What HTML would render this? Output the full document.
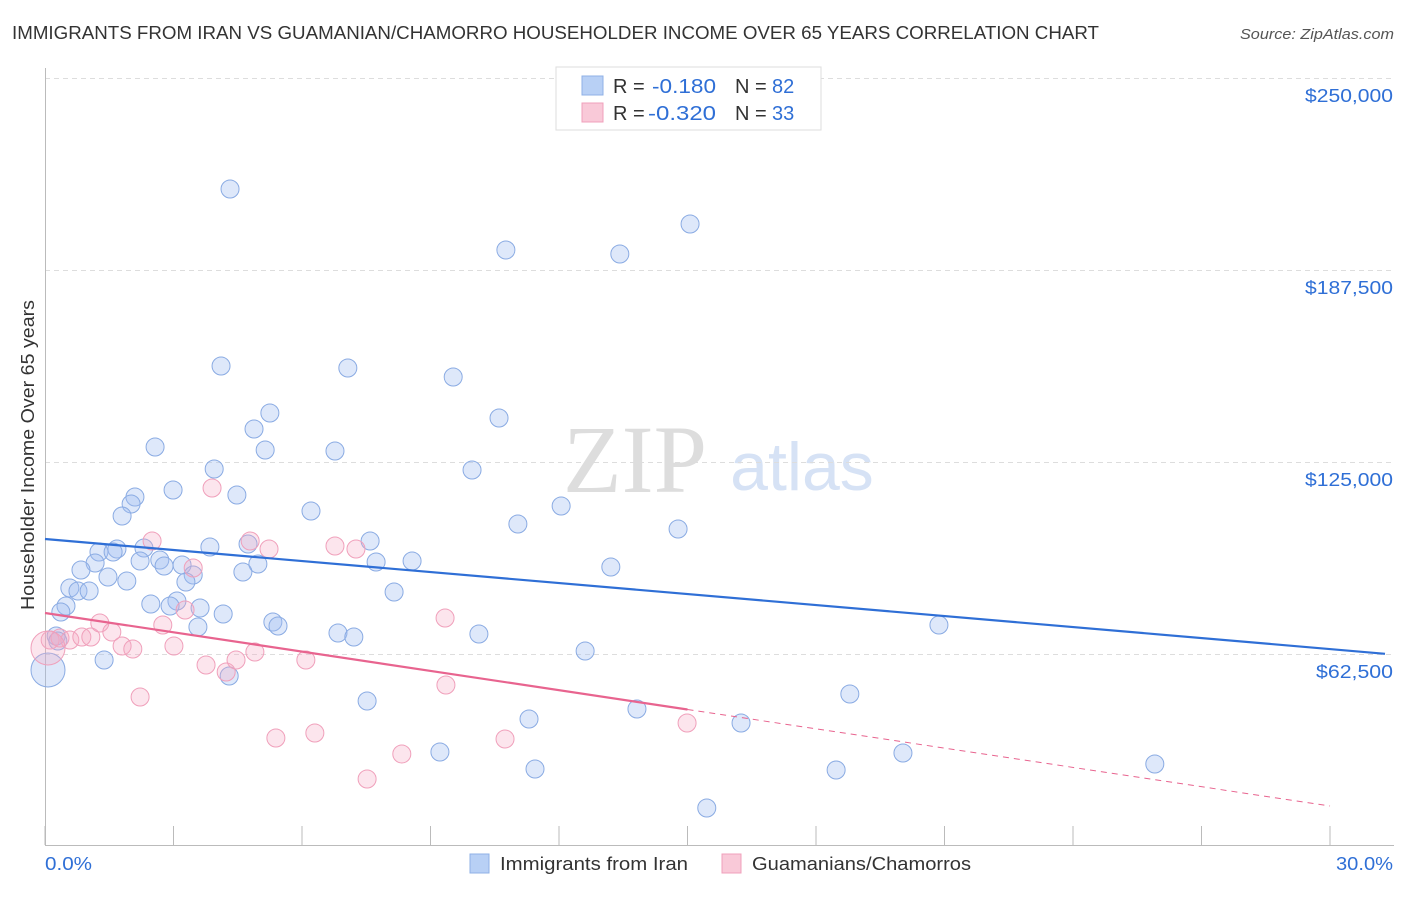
<!DOCTYPE html>
<html><head><meta charset="utf-8"><style>
body{margin:0;background:#fff;font-family:"Liberation Sans",sans-serif;}
svg text{font-family:"Liberation Sans",sans-serif;}
</style></head><body>
<svg id="c" width="1406" height="892">
<text x="12" y="39" font-size="18" fill="#333" textLength="1087" lengthAdjust="spacingAndGlyphs">IMMIGRANTS FROM IRAN VS GUAMANIAN/CHAMORRO HOUSEHOLDER INCOME OVER 65 YEARS CORRELATION CHART</text>
<text x="1240" y="39" font-size="15" fill="#555" textLength="154" lengthAdjust="spacingAndGlyphs" font-style="italic">Source: ZipAtlas.com</text>
<text x="635" y="492" font-size="96" fill="#ddd" text-anchor="middle" style="font-family:'Liberation Serif',serif">ZIP</text>
<text x="802" y="490" font-size="68" fill="#d6e2f5" text-anchor="middle">atlas</text>
<text transform="translate(34,610) rotate(-90)" font-size="18" fill="#333" textLength="310" lengthAdjust="spacingAndGlyphs">Householder Income Over 65 years</text>
<g id="grid"></g><g id="marks"></g>
<rect x="556" y="67" width="265" height="63" fill="#fff" stroke="#ddd"/>
<rect x="582" y="76" width="21" height="19" fill="#b8d0f5" stroke="#8fb0e6"/>
<rect x="582" y="103" width="21" height="19" fill="#f9c9d8" stroke="#f0a0bb"/>
<text x="613" y="93" font-size="20" fill="#333">R =<tspan x="652" fill="#2f6fd6" textLength="64" lengthAdjust="spacingAndGlyphs">-0.180</tspan><tspan x="735">N =</tspan><tspan x="772" fill="#2f6fd6">82</tspan></text>
<text x="613" y="120" font-size="20" fill="#333">R =<tspan x="648" fill="#2f6fd6" textLength="68" lengthAdjust="spacingAndGlyphs">-0.320</tspan><tspan x="735">N =</tspan><tspan x="772" fill="#2f6fd6">33</tspan></text>
<text x="45" y="870" font-size="18" fill="#2f6fd6" textLength="47" lengthAdjust="spacingAndGlyphs">0.0%</text>
<text x="1336" y="870" font-size="18" fill="#2f6fd6" textLength="57" lengthAdjust="spacingAndGlyphs">30.0%</text>
<rect x="470" y="854" width="19" height="19" fill="#b8d0f5" stroke="#8fb0e6"/>
<text x="500" y="870" font-size="18" fill="#333" textLength="188" lengthAdjust="spacingAndGlyphs">Immigrants from Iran</text>
<rect x="722" y="854" width="19" height="19" fill="#f9c9d8" stroke="#f0a0bb"/>
<text x="752" y="870" font-size="18" fill="#333" textLength="219" lengthAdjust="spacingAndGlyphs">Guamanians/Chamorros</text>
</svg>
<script>
const yTicks=[62500,125000,187500,250000];
const yTickLabels=["$62,500","$125,000","$187,500","$250,000"];
const xTicks=[0,3,6,9,12,15,18,21,24,27,30];
const iranX=[4.32,15.06,10.76,13.42,4.11,7.07,9.53,5.25,10.60,4.88,2.57,5.14,6.77,3.95,9.97,2.99,4.48,2.10,2.01,6.21,1.80,12.05,11.04,14.78,7.59,4.74,3.85,2.31,1.26,1.68,1.59,2.68,2.22,4.97,7.73,8.57,2.78,3.20,1.17,0.84,4.62,13.21,1.47,1.91,3.46,3.29,0.58,0.77,1.03,8.15,2.47,3.08,3.62,2.92,0.49,0.37,4.16,5.32,5.44,3.57,6.84,7.21,10.13,20.87,0.26,0.30,12.61,1.38,4.30,18.79,7.52,13.82,11.30,16.25,9.22,20.03,11.44,18.47,25.91,15.45,0.07];
const iranY=[213860,202470,194010,192710,156250,155600,152670,140950,139320,135740,129880,128910,128580,122720,122400,115890,114260,113610,111330,109050,107420,110680,104820,103190,99280,98310,97330,97010,95700,96680,95700,93100,92770,91800,92450,92770,91150,91470,92120,89840,89190,90820,87560,86260,88220,85940,83980,83010,83010,82680,78780,79750,77470,78120,78120,76170,75520,72920,71610,71290,69340,68030,69010,71940,68360,66730,63480,60550,55340,49480,47200,44600,41340,40040,30600,30270,25070,24740,26690,12370,57290];
const guamX=[0.12,0.35,0.58,0.86,1.07,1.28,1.56,1.80,2.05,2.50,2.75,3.01,3.27,3.46,3.76,3.90,4.23,4.46,4.79,4.90,5.23,6.09,6.77,7.26,9.34,9.36,8.33,7.52,10.74,5.39,6.30,2.22,14.99,0.07];
const guamY=[67060,67710,67060,68030,68030,72590,69660,65100,64130,99280,71940,65100,76820,90490,58920,116540,56640,60550,99280,63150,96680,60550,97660,96680,74220,52410,29950,21810,34830,35160,36780,48500,40040,64450];
const iranTrend=[99930,64100];
const guamTrend=[75850,13020];
const guamSolidEnd=15;
const NS="http://www.w3.org/2000/svg";
const X=v=>45+v/30*1285, Y=v=>654-(v-62500)/62500*192;
function mk(t,a,p){const e=document.createElementNS(NS,t);for(const k in a)e.setAttribute(k,a[k]);p.appendChild(e);return e;}
const g=document.getElementById('grid'), m=document.getElementById('marks');
yTicks.forEach((v,i)=>{
 const l=mk('line',{x1:45,x2:1394,y1:Y(v)+0.5,y2:Y(v)+0.5,stroke:'#ddd','stroke-dasharray':'5,4'},g);
 
 
 const t=mk('text',{x:1393,y:Y(v)+24,'font-size':18,fill:'#2f6fd6','text-anchor':'end',textLength:yTickLabels[i].length*11,lengthAdjust:'spacingAndGlyphs'},g);
 t.textContent=yTickLabels[i];
 
 
});
const ax=mk('path',{d:'M45.5 68V845.5H1394',stroke:'#bbb',fill:'none'},g);


xTicks.forEach(v=>{
 const l=mk('line',{x1:X(v),x2:X(v),y1:826,y2:845,stroke:'#bbb'},g);
 
 
});
function pts(xs,ys,fill,stroke,name){
 xs.forEach((x,i)=>{
  const big=i===xs.length-1;
  const c=mk('circle',{cx:X(x),cy:Y(ys[i]),r:big?17:9,fill:fill,stroke:stroke,'stroke-width':1},m);
  
  
 });
}
pts(iranX,iranY,'rgba(160,190,240,0.35)','#8aabe3','iran-point');
pts(guamX,guamY,'rgba(245,170,195,0.3)','#f0a0bb','guam-point');
const bl=mk('line',{x1:X(0),y1:Y(iranTrend[0]),x2:1385,y2:Y(iranTrend[0]+(iranTrend[1]-iranTrend[0])*(1340/1285)),stroke:'#2f6fd6','stroke-width':2.2},m);


const gy=x=>guamTrend[0]+(guamTrend[1]-guamTrend[0])*x/30;
const pl=mk('line',{x1:X(0),y1:Y(gy(0)),x2:X(guamSolidEnd),y2:Y(gy(guamSolidEnd)),stroke:'#e8648f','stroke-width':2.2},m);


const pd=mk('line',{x1:X(guamSolidEnd),y1:Y(gy(guamSolidEnd)),x2:X(30),y2:Y(gy(30)),stroke:'#e8648f','stroke-width':1,'stroke-dasharray':'6,5'},m);


</script>
</body></html>
